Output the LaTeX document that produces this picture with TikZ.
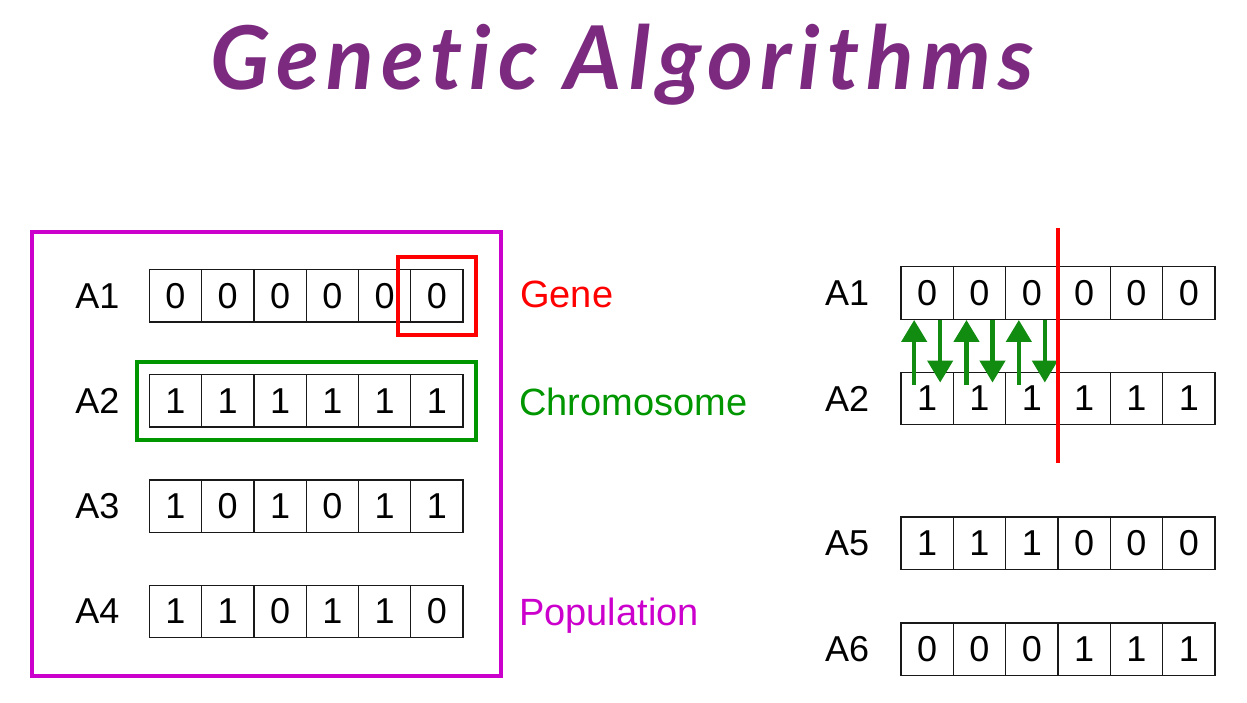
\documentclass[tikz,border=0pt]{standalone}
\usepackage{fontspec}
\setmainfont{Liberation Sans}
\newfontfamily\titlefont[Ligatures=NoCommon, LetterSpace=8]{Lato}
\usetikzlibrary{arrows.meta, positioning, fit}
\definecolor{titlepurple}{RGB}{123,42,128}
\definecolor{genered}{RGB}{255,0,0}
\definecolor{chromgreen}{RGB}{0,150,0}
\definecolor{popmagenta}{RGB}{204,0,204}
\definecolor{swapgreen}{RGB}{17,140,17}

\begin{document}
\begin{tikzpicture}[
        x=1pt, y=-1pt,
        cell/.style={
            draw=black!90,
            line width=1.3pt,
            minimum width=52.3pt,
            minimum height=52.6pt,
            inner sep=0pt,
            font=\fontsize{36}{40}\selectfont
        },
        rowlbl/.style={
            inner sep=0pt,
            font=\fontsize{36}{40}\selectfont
        },
        tag/.style={
            anchor=base west,
            inner sep=0pt,
            font=\fontsize{38}{42}\selectfont
        },
        genebox/.style={draw=genered, line width=4pt, inner sep=12pt},
        chrombox/.style={draw=chromgreen, line width=4pt, inner sep=12pt},
        popbox/.style={draw=popmagenta, line width=3.5pt},
        cutline/.style={draw=genered, line width=4pt},
        swap/.style={
            draw=swapgreen,
            line width=4.5pt,
            -{Triangle[width=25pt, length=22pt]}
        }
    ]
        \useasboundingbox (0,0) rectangle (1247,703);

        \node[anchor=base, text=titlepurple,
              font=\titlefont\bfseries\itshape\fontsize{88}{96}\selectfont] (title) at (622,90) {Genetic Algorithms};

        % population on the left
        \foreach \rname/\ry/\bits in {A1/295.7/{0,0,0,0,0,0}, A2/400.8/{1,1,1,1,1,1},
                                      A3/506.3/{1,0,1,0,1,1}, A4/611.5/{1,1,0,1,1,0}} {
            \foreach \b [count=\i] in \bits
                \node[cell] (p\rname-\i) at (149.3+52.3*\i-26.15, \ry) {\b};
            \node[rowlbl, left=29pt of p\rname-1] (pl\rname) {\rname};
        }

        \node[popbox, minimum width=469pt, minimum height=444pt] (pop) at (266.5,454) {};
        \node[genebox, fit=(pA1-6)] (gene) {};
        \node[chrombox, fit=(pA2-1)(pA2-6)] (chrom) {};

        \node[tag, text=genered] (genetag) at (520,308) {Gene};
        \node[tag, text=chromgreen] (chromtag) at (519,415) {Chromosome};
        \node[tag, text=popmagenta] (poptag) at (519,625) {Population};

        % crossover on the right
        \foreach \rname/\ry/\bits in {A1/293/{0,0,0,0,0,0}, A2/398.5/{1,1,1,1,1,1},
                                      A5/543.3/{1,1,1,0,0,0}, A6/649.2/{0,0,0,1,1,1}} {
            \foreach \b [count=\i] in \bits
                \node[cell] (c\rname-\i) at (901+52.33*\i-26.17, \ry) {\b};
            \node[rowlbl, left=31pt of c\rname-1] (cl\rname) {\rname};
        }

        \foreach \i in {1,2,3} {
            \draw[swap] ([xshift=-13pt, yshift=-13pt]cA2-\i.north) -- ([xshift=-13pt]cA1-\i.south);
            \draw[swap] ([xshift=13pt]cA1-\i.south) -- ([xshift=13pt, yshift=-11pt]cA2-\i.north);
        }

        \coordinate (cuttop) at (1057.5,228);
        \coordinate (cutbot) at (1057.5,463);
        \draw[cutline] (cuttop) -- (cutbot);

    \end{tikzpicture}
\end{document}
